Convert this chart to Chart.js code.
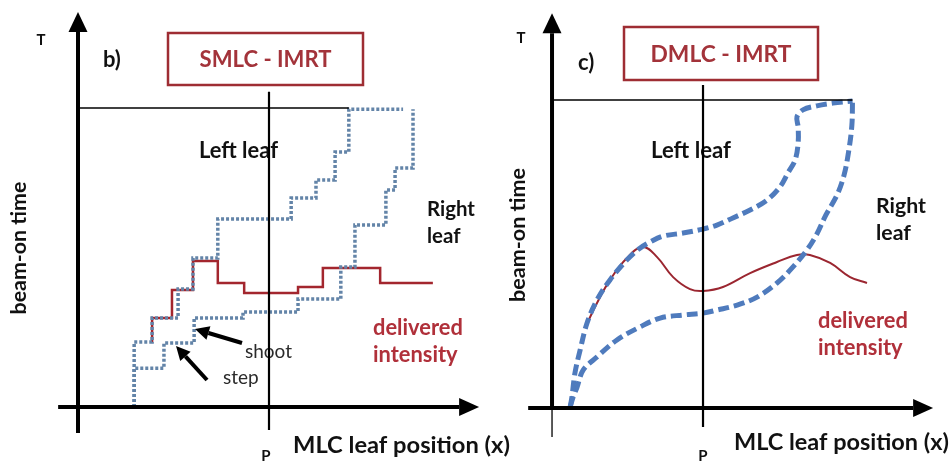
<!DOCTYPE html>
<html>
<head>
<meta charset="utf-8">
<script src="https://cdn.jsdelivr.net/npm/chart.js@4.4.1/dist/chart.umd.min.js"></script>
<style>
  html, body { margin: 0; padding: 0; background: #fff; }
  #area { width: 952px; height: 462px; }
</style>
</head>
<body>
<div id="area"><canvas id="grafico" width="952" height="462"></canvas></div>
<script>
// Dados (unidades: P = 50 na posicao, T = 100 no tempo)----------------------------
const posP = 50;
const tempoT = 100;

// b) SMLC - lamina esquerda, lamina direita e intensidade entregue (degraus)
const smlcEsqX = [14.7, 14.7, 19.4, 26.2, 30.1, 36.6, 55.8, 62.3, 67.3, 70.9, 85.1];
const smlcEsqY = [0, 21.7, 29.8, 39.5, 49.8, 62.9, 69.9, 75.9, 85.3, 99.6, 99.6];
const smlcDirX = [14.7, 14.7, 22.5, 30.4, 43.2, 57.6, 68.8, 72.5, 80.6, 83.0, 87.7];
const smlcDirY = [0, 13.0, 21.4, 29.8, 31.8, 36.1, 46.8, 60.9, 72.6, 79.9, 99.6];
const smlcIntX = [19.4, 19.4, 24.6, 30.1, 36.6, 43.5, 57.6, 64.1, 79.1, 92.9];
const smlcIntY = [21.7, 29.8, 39.1, 48.8, 41.5, 38.1, 40.1, 46.5, 41.5, 41.5];

// c) DMLC - curvas continuas
const dmlcEsqX = [6.0, 6.6, 7.6, 9.3, 11.6, 14.9, 19.2, 24.8, 29.1, 32.5, 36.8, 43.4, 50.0, 54.6, 59.9, 65.6, 71.2, 75.5, 78.1, 80.5, 81.5, 81.5, 81.1, 83.1, 87.7, 93.0, 99.5];
const dmlcEsqY = [0.3, 3.6, 11.4, 18.8, 27.6, 35.1, 41.6, 48.1, 51.9, 53.9, 55.8, 56.8, 58.1, 59.4, 61.7, 64.3, 67.5, 71.8, 76.3, 80.5, 86.0, 91.2, 94.5, 96.8, 98.1, 99.0, 99.7];
const dmlcDirX = [6.0, 7.0, 8.3, 10.3, 14.9, 21.5, 29.1, 35.8, 43.4, 50.0, 54.6, 61.3, 67.9, 74.5, 79.8, 84.4, 87.7, 90.7, 94.4, 96.7, 98.3, 99.3, 99.5];
const dmlcDirY = [0.3, 3.6, 6.8, 12.3, 16.6, 22.1, 26.3, 29.2, 30.2, 30.8, 31.8, 33.4, 36.0, 40.6, 45.8, 51.3, 56.5, 62.7, 69.2, 75.6, 83.8, 91.9, 99.7];
const dmlcIntX = [10.9, 14.9, 19.2, 24.8, 30.1, 34.8, 40.1, 45.7, 50.0, 56.6, 65.6, 74.5, 81.1, 85.4, 92.1, 98.7, 104.3];
const dmlcIntY = [26.0, 34.1, 41.6, 48.7, 52.3, 49.0, 42.5, 38.6, 38.0, 39.3, 43.8, 47.4, 49.7, 49.7, 47.1, 42.5, 40.6];
//---------------------------------------------------------------------------------

function pontos(xs, ys) {
  return xs.map((x, i) => ({ x: x, y: ys[i] }));
}

const fonte = 'Lato, "Open Sans", sans-serif';
const vermelho = '#a3262e';

// Paineis: posicao/largura dos textos e extensao dos eixos
const paineis = [
  {
    sx: 'xb', sy: 'yb', letra: 'b)', titulo: 'SMLC - IMRT', larguraTitulo: 132,
    caixa: [168, 33, 195, 52], letraPos: [103, 67], tPos: [41, 45],
    esq: [199, 158, 79], dir: [427, 216, 48], entregue: [373, 335, 90], rotY: [19, 248, 133],
    pPos: [266, 461], eixoXPos: [293, 453, 217],
    eixoX: [-5.2, 105], eixoY: [-8.7, 132.1], linhaP: [-7.7, 105.4], fimT: 70.9,
    baixoGrosso: true
  },
  {
    sx: 'xc', sy: 'yc', letra: 'c)', titulo: 'DMLC - IMRT', larguraTitulo: 141,
    caixa: [624, 27, 194, 53], letraPos: [578, 70], tPos: [521, 43],
    esq: [651, 158, 80], dir: [876, 213, 50], entregue: [818, 328, 90], rotY: [518, 235, 134],
    pPos: [703, 461], eixoXPos: [734, 450, 215],
    eixoX: [-7.9, 126.2], eixoY: [-9.4, 128.2], linhaP: [-6.2, 104.9], fimT: 99.5,
    baixoGrosso: false
  }
];

function linha(ctx, x1, y1, x2, y2, w) {
  ctx.beginPath();
  ctx.lineWidth = w;
  ctx.moveTo(x1, y1);
  ctx.lineTo(x2, y2);
  ctx.stroke();
}

function seta(ctx, x1, y1, x2, y2, w, tam, larg) {
  const ang = Math.atan2(y2 - y1, x2 - x1);
  const bx = x2 - Math.cos(ang) * tam, by = y2 - Math.sin(ang) * tam;
  linha(ctx, x1, y1, bx, by, w);
  ctx.beginPath();
  ctx.moveTo(x2, y2);
  ctx.lineTo(bx + Math.sin(ang) * larg, by - Math.cos(ang) * larg);
  ctx.lineTo(bx - Math.sin(ang) * larg, by + Math.cos(ang) * larg);
  ctx.closePath();
  ctx.fill();
}

// tamanho da fonte ajustado para a largura medida na figura
function tamanho(ctx, s, peso, alvo) {
  ctx.font = peso + ' 20px ' + fonte;
  return 20 * alvo / ctx.measureText(s).width;
}

function texto(ctx, s, x, y, font, cor, align) {
  ctx.font = font;
  ctx.fillStyle = cor;
  ctx.textAlign = align || 'left';
  ctx.fillText(s, x, y);
}

// Plugin que desenha eixos, caixas e textos-------------------------------------
const desenho = {
  id: 'desenho',
  beforeDatasetsDraw(chart) {
    const ctx = chart.ctx;
    ctx.save();
    ctx.textBaseline = 'alphabetic';
    paineis.forEach(p => {
      texto(ctx, 'T', p.tPos[0], p.tPos[1], 'bold 15px ' + fonte, '#111', 'center');
      texto(ctx, p.letra, p.letraPos[0], p.letraPos[1], 'bold 22px ' + fonte, '#111');
      ctx.strokeStyle = '#9e2d33';
      ctx.lineWidth = 2.5;
      ctx.strokeRect(p.caixa[0], p.caixa[1], p.caixa[2], p.caixa[3]);
      ctx.textBaseline = 'middle';
      let t = tamanho(ctx, p.titulo, 'bold', p.larguraTitulo);
      texto(ctx, p.titulo, p.caixa[0] + p.caixa[2] / 2, p.caixa[1] + p.caixa[3] / 2 + 1, 'bold ' + t + 'px ' + fonte, '#a3333a', 'center');
      ctx.textBaseline = 'alphabetic';
      t = tamanho(ctx, 'Left leaf', 'bold', p.esq[2]);
      texto(ctx, 'Left leaf', p.esq[0], p.esq[1], 'bold ' + t + 'px ' + fonte, '#111');
      t = tamanho(ctx, 'Right', 'bold', p.dir[2]);
      texto(ctx, 'Right', p.dir[0], p.dir[1], 'bold ' + t + 'px ' + fonte, '#111');
      texto(ctx, 'leaf', p.dir[0], p.dir[1] + 27, 'bold ' + t + 'px ' + fonte, '#111');
      t = tamanho(ctx, 'delivered', 'bold', p.entregue[2]);
      texto(ctx, 'delivered', p.entregue[0], p.entregue[1], 'bold ' + t + 'px ' + fonte, '#b0303a');
      texto(ctx, 'intensity', p.entregue[0], p.entregue[1] + 27, 'bold ' + t + 'px ' + fonte, '#b0303a');
      texto(ctx, 'P', p.pPos[0], p.pPos[1], 'bold 15px ' + fonte, '#111', 'center');
      t = tamanho(ctx, 'MLC leaf position (x)', 'bold', p.eixoXPos[2]);
      texto(ctx, 'MLC leaf position (x)', p.eixoXPos[0], p.eixoXPos[1], 'bold ' + t + 'px ' + fonte, '#111');
      t = tamanho(ctx, 'beam-on time', 'bold', p.rotY[2]);
      ctx.save();
      ctx.translate(p.rotY[0], p.rotY[1]);
      ctx.rotate(-Math.PI / 2);
      ctx.textBaseline = 'middle';
      texto(ctx, 'beam-on time', 0, 0, 'bold ' + t + 'px ' + fonte, '#111', 'center');
      ctx.restore();
    });
    // shoot / step
    texto(ctx, 'shoot', 245, 358, '19px ' + fonte, '#2b2b2b');
    texto(ctx, 'step', 223, 384, '19px ' + fonte, '#2b2b2b');
    ctx.restore();
  },
  afterDatasetsDraw(chart) {
    const ctx = chart.ctx;
    ctx.save();
    ctx.strokeStyle = '#000';
    ctx.fillStyle = '#000';
    paineis.forEach(p => {
      const sx = chart.scales[p.sx], sy = chart.scales[p.sy];
      const x0 = sx.getPixelForValue(0), y0 = sy.getPixelForValue(0);
      const xP = sx.getPixelForValue(posP), yT = sy.getPixelForValue(tempoT);
      // linha do tempo T
      linha(ctx, x0, yT, sx.getPixelForValue(p.fimT), yT, 1.4);
      // linha P
      linha(ctx, xP, sy.getPixelForValue(p.linhaP[1]), xP, sy.getPixelForValue(p.linhaP[0]), 2.2);
      // eixo y com seta
      seta(ctx, x0, y0, x0, sy.getPixelForValue(p.eixoY[1]), 4, 20, 9.5);
      linha(ctx, x0, y0, x0, sy.getPixelForValue(p.eixoY[0]), p.baixoGrosso ? 4 : 1.3);
      // eixo x com seta
      seta(ctx, sx.getPixelForValue(p.eixoX[0]), y0, sx.getPixelForValue(p.eixoX[1]), y0, 4, 20, 9);
    });
    // setas de shoot e step
    seta(ctx, 242, 343, 195, 329, 4, 14, 7);
    seta(ctx, 207, 380, 176, 346, 4, 14, 7);
    ctx.restore();
  }
};
//---------------------------------------------------------------------------------

const pontilhado = { showLine: true, stepped: 'before', borderColor: '#6384a8', borderWidth: 3.5, borderDash: [3, 2], pointRadius: 0, xAxisID: 'xb', yAxisID: 'yb' };
const tracejado = { showLine: true, tension: 0.35, borderColor: '#4f7bbd', borderWidth: 5, borderDash: [11, 5], pointRadius: 0, xAxisID: 'xc', yAxisID: 'yc' };

const ctx = document.getElementById('grafico').getContext('2d');
const grafico = new Chart(ctx, {
  type: 'scatter',
  data: {
    datasets: [
      Object.assign({ label: 'Left leaf b', data: pontos(smlcEsqX, smlcEsqY) }, pontilhado),
      Object.assign({ label: 'Right leaf b', data: pontos(smlcDirX, smlcDirY) }, pontilhado),
      { label: 'delivered b', data: pontos(smlcIntX, smlcIntY), showLine: true, stepped: 'before', borderColor: vermelho, borderWidth: 2.5, pointRadius: 0, xAxisID: 'xb', yAxisID: 'yb' },
      Object.assign({ label: 'Left leaf c', data: pontos(dmlcEsqX, dmlcEsqY) }, tracejado),
      Object.assign({ label: 'Right leaf c', data: pontos(dmlcDirX, dmlcDirY) }, tracejado),
      { label: 'delivered c', data: pontos(dmlcIntX, dmlcIntY), showLine: true, tension: 0.4, borderColor: '#9b2630', borderWidth: 2, pointRadius: 0, xAxisID: 'xc', yAxisID: 'yc' }
    ]
  },
  options: {
    responsive: false,
    animation: false,
    events: [],
    layout: { padding: 0 },
    plugins: { legend: { display: false }, tooltip: { enabled: false } },
    scales: {
      xb: { type: 'linear', axis: 'x', display: false, min: -20.42, max: 228.8 },
      yb: { type: 'linear', axis: 'y', display: false, min: -18.39, max: 136.1 },
      xc: { type: 'linear', axis: 'x', display: false, min: -182.8, max: 132.45 },
      yc: { type: 'linear', axis: 'y', display: false, min: -17.53, max: 132.47 }
    }
  },
  plugins: [desenho]
});
</script>
</body>
</html>
